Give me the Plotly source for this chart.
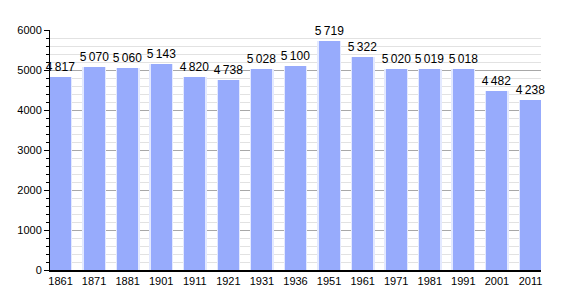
import plotly.graph_objects as go

years = ["1861", "1871", "1881", "1901", "1911", "1921", "1931", "1936", "1951", "1961", "1971", "1981", "1991", "2001", "2011"]
population = [4817, 5070, 5060, 5143, 4820, 4738, 5028, 5100, 5719, 5322, 5020, 5019, 5018, 4482, 4238]
labels = [f"{v:,}".replace(",", "\u2009") for v in population]

xs = list(range(len(years)))
w = 0.627

fig = go.Figure()
# soft halo to mimic gradient edges
fig.add_trace(go.Bar(x=xs, y=population, width=w + 0.08, marker=dict(color="#e3e9ff", line=dict(width=0)),
                     hoverinfo="skip", showlegend=False))
fig.add_trace(go.Bar(x=xs, y=population, width=w, marker=dict(color="#97abfc", line=dict(width=0)),
                     text=labels, textposition="outside", cliponaxis=False, constraintext="none",
                     textfont=dict(family="Liberation Sans, Arial, sans-serif", size=12, color="#000"),
                     showlegend=False))

fig.update_layout(
    width=570, height=300,
    margin=dict(l=50, r=29, t=30, b=30),
    paper_bgcolor="white", plot_bgcolor="white",
    barmode="overlay", bargap=0,
    font=dict(family="Liberation Sans, Arial, sans-serif", size=11, color="#000"),
    xaxis=dict(range=[-w / 2, len(years) - 1 + w / 2], tickmode="array", tickvals=xs, ticktext=years,
               showgrid=False, showline=True, linecolor="#000", linewidth=1.5, ticks="", zeroline=False,
               tickfont=dict(size=11)),
    yaxis=dict(range=[0, 6000], dtick=1000, showgrid=True, gridcolor="#a8a8a8", gridwidth=1,
               showline=True, linecolor="#000", linewidth=1, ticks="outside", ticklen=5, tickcolor="#000",
               zeroline=False, tickfont=dict(size=11),
               minor=dict(dtick=200, showgrid=True, gridcolor="#e2e2e2", ticks="outside", ticklen=3, tickcolor="#000")),
)

fig.write_html("out.html")
